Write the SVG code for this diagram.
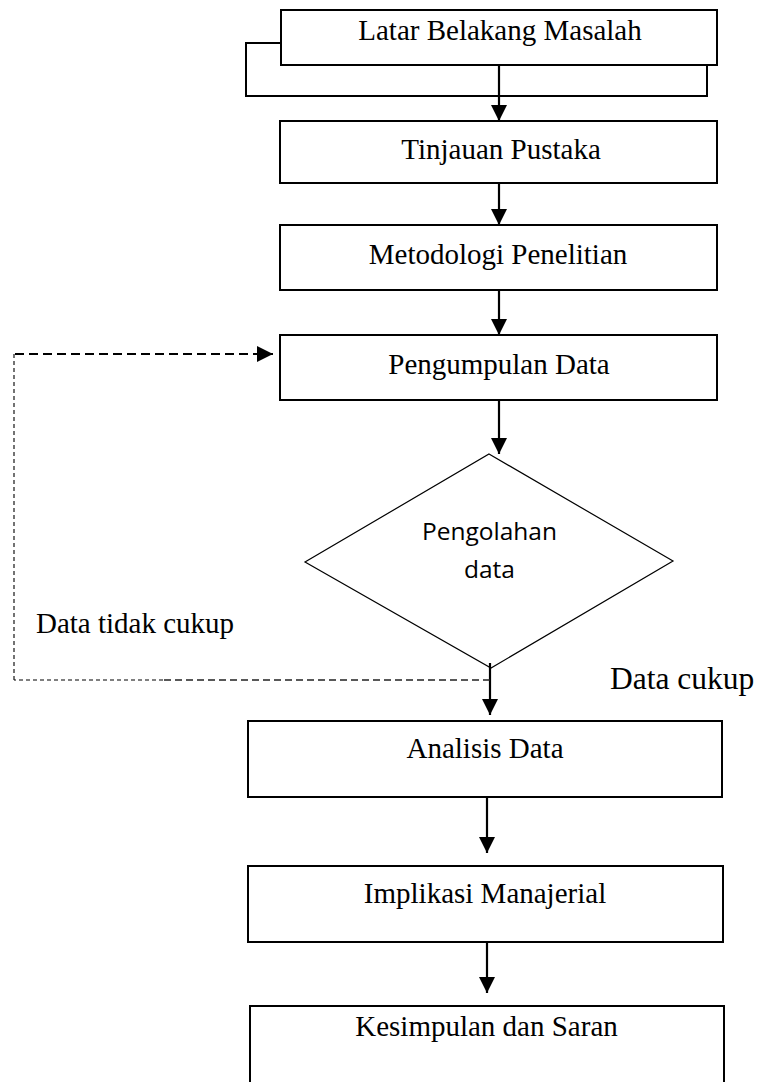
<svg xmlns="http://www.w3.org/2000/svg" width="760" height="1082" viewBox="0 0 760 1082">
  <style>
    .box { fill: #fff; stroke: #000; stroke-width: 2; }
    .dia { fill: #fff; stroke: #000; stroke-width: 1.2; }
    .lbl { font-family: "Liberation Serif", "Times New Roman", serif; font-size: 29px; fill: #000; text-anchor: middle; }
    .cal { font-family: "Open Sans", "Noto Sans", sans-serif; font-size: 24.5px; fill: #000; text-anchor: middle; }
    .note { font-family: "Liberation Serif", "Times New Roman", serif; fill: #000; }
    .flow { stroke: #000; stroke-width: 2.2; fill: none; }
    .dash-main { stroke: #000; stroke-width: 2.2; fill: none; stroke-dasharray: 9 5; }
    .dash-thin { stroke: #000; stroke-width: 1.1; fill: none; stroke-dasharray: 4 3; }
    .dash-mid { stroke: #222; stroke-width: 1.6; fill: none; stroke-dasharray: 7 4; }
  </style>
  <defs>
    <marker id="arrow" markerUnits="userSpaceOnUse" markerWidth="17" markerHeight="17" refX="16" refY="8" orient="auto">
      <path d="M0,0 L16,8 L0,16 z" fill="#000"/>
    </marker>
  </defs>

  <rect width="760" height="1082" fill="#fff"/>

  <!-- process chain -->
  <g id="latar-belakang">
    <rect class="box" x="246" y="43" width="461" height="53"/>
    <rect class="box" x="281" y="10" width="436" height="55"/>
    <text class="lbl" x="500" y="40">Latar Belakang Masalah</text>
  </g>

  <g id="tinjauan-pustaka">
    <rect class="box" x="280" y="121" width="437" height="62"/>
    <text class="lbl" x="501" y="159">Tinjauan Pustaka</text>
  </g>

  <g id="metodologi">
    <rect class="box" x="280" y="225" width="437" height="65"/>
    <text class="lbl" x="498" y="264">Metodologi Penelitian</text>
  </g>

  <g id="pengumpulan-data">
    <rect class="box" x="280" y="335" width="437" height="65"/>
    <text class="lbl" x="499" y="374">Pengumpulan Data</text>
  </g>

  <g id="pengolahan-data">
    <polygon class="dia" points="489,454 673,561 491,668 305,562"/>
    <text class="cal" x="489.5" y="540">Pengolahan</text>
    <text class="cal" x="489.5" y="578">data</text>
  </g>

  <g id="analisis-data">
    <rect class="box" x="248" y="721" width="474" height="76"/>
    <text class="lbl" x="485" y="758">Analisis Data</text>
  </g>

  <g id="implikasi">
    <rect class="box" x="248" y="866" width="475" height="76"/>
    <text class="lbl" x="485" y="903">Implikasi Manajerial</text>
  </g>

  <g id="kesimpulan">
    <rect class="box" x="250" y="1006" width="474" height="100"/>
    <text class="lbl" x="486.5" y="1036">Kesimpulan dan Saran</text>
  </g>

  <!-- connectors -->
  <g id="connectors">
    <line class="flow" x1="499" y1="65" x2="499" y2="121" marker-end="url(#arrow)"/>
    <line class="flow" x1="499" y1="183" x2="499" y2="225" marker-end="url(#arrow)"/>
    <line class="flow" x1="499" y1="290" x2="499" y2="335" marker-end="url(#arrow)"/>
    <line class="flow" x1="499" y1="400" x2="499" y2="454" marker-end="url(#arrow)"/>
    <line class="flow" x1="490" y1="663" x2="490" y2="715" marker-end="url(#arrow)"/>
    <line class="flow" x1="487" y1="797" x2="487" y2="853" marker-end="url(#arrow)"/>
    <line class="flow" x1="487" y1="942" x2="487" y2="993" marker-end="url(#arrow)"/>

    <!-- feedback loop when data is insufficient -->
    <line class="dash-mid" x1="490" y1="680" x2="163" y2="680"/>
    <line class="dash-thin" x1="163" y1="680" x2="14" y2="680"/>
    <line class="dash-thin" x1="14" y1="680" x2="14" y2="354"/>
    <line class="dash-main" x1="15" y1="354" x2="273" y2="354" marker-end="url(#arrow)"/>
  </g>

  <g id="edge-labels">
    <text class="note" x="36" y="633" font-size="29">Data tidak cukup</text>
    <text class="note" x="610" y="689" font-size="31.5">Data cukup</text>
  </g>
</svg>
